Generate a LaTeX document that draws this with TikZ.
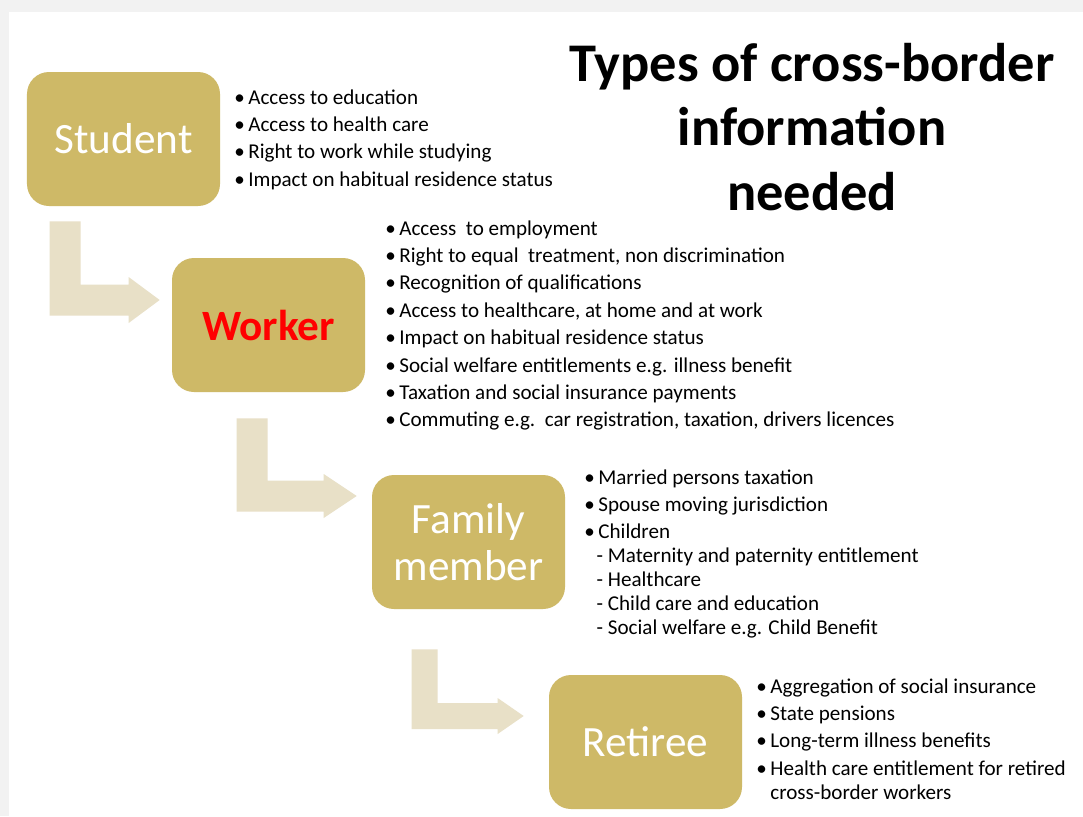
\documentclass[tikz,border=0pt]{standalone}
\usepackage{fontspec}
\setmainfont{Carlito}
\usepackage{tikz}
\usetikzlibrary{positioning, calc}
\definecolor{gold}{RGB}{206, 185, 103}
\definecolor{paleGold}{RGB}{232, 224, 199}
\definecolor{slideShadow}{RGB}{242, 242, 242}
\tikzset{
  stage/.style = {rectangle, rounded corners=0.44cm, minimum width=3.86cm, minimum height=2.68cm,
                  fill=gold, text=white, align=center, font=\fontsize{24.6}{26.6}\selectfont},
  bullets/.style = {anchor=north west, inner sep=0pt, align=left, font=\fontsize{12}{15.6}\selectfont},
  bentfill/.style = {fill=paleGold}
}
% L-shaped block arrow: start corner, tip, bar width, head width, head length
\newcommand{\bentarrow}[5]{%
  \fill[bentfill] (#1) -- ++(#3,0) |- ($(#2)+(-#5,-#3/2)$) -- ++(0,{-(#4-#3)/2})
    -- (#2) -- ++(-#5,{#4/2}) -- ++(0,{-(#4-#3)/2}) -| (#1) -- cycle;}
\newcommand{\dashitem}{\hspace{7pt}- }

\begin{document}
\begin{tikzpicture}[x=0.2mm, y=-0.2mm]
    \useasboundingbox (0,0) rectangle (1083,816);
    % slide on its shadow
    \fill[slideShadow] (0,0) rectangle (1083,816);
    \fill[white] (9,12) rectangle (1083,816);

    % Title
    \node[align=center, font=\bfseries\fontsize{31}{36.8}\selectfont] (title) at (812,127)
        {Types of cross-border\\information\\needed};

    % Stages
    \node[stage] (student) at (123.5,139) {Student};
    \node[stage, text=red, font=\bfseries\fontsize{24.6}{26.6}\selectfont] (worker) at (268.5,325) {Worker};
    \node[stage] (family) at (468.5,542) {Family\\member};
    \node[stage] (retiree) at (645.5,742) {Retiree};

    % Arrows between stages
    \coordinate (s1) at ($(student.south west)+(23,15)$);
    \coordinate (t1) at ($(worker.west)+(-12,-25)$);
    \coordinate (s2) at ($(worker.south west)+(65,26)$);
    \coordinate (t2) at ($(family.west)+(-15,-46)$);
    \coordinate (s3) at ($(family.south west)+(40,40)$);
    \coordinate (t3) at ($(retiree.west)+(-25,-26)$);
    \bentarrow{s1}{t1}{31}{46}{31}
    \bentarrow{s2}{t2}{31}{44}{33}
    \bentarrow{s3}{t3}{26}{36}{26}

    % Information lists
    \node[bullets] (studentInfo) at (234,89) {%
        \textbullet\,Access to education\\
        \textbullet\,Access to health care\\
        \textbullet\,Right to work while studying\\
        \textbullet\,Impact on habitual residence status};
    \node[bullets] (workerInfo) at (385,220) {%
        \textbullet\,Access\ \ to employment\\
        \textbullet\,Right to equal\ \ treatment, non discrimination\\
        \textbullet\,Recognition of qualifications\\
        \textbullet\,Access to healthcare, at home and at work\\
        \textbullet\,Impact on habitual residence status\\
        \textbullet\,Social welfare entitlements e.g. illness benefit\\
        \textbullet\,Taxation and social insurance payments\\
        \textbullet\,Commuting e.g.\ \ car registration, taxation, drivers licences};
    \node[bullets] (familyInfo) at (584,469) {%
        \textbullet\,Married persons taxation\\
        \textbullet\,Spouse moving jurisdiction\\
        \textbullet\,Children\\[-2pt]
        \dashitem Maternity and paternity entitlement\\[-2pt]
        \dashitem Healthcare\\[-2pt]
        \dashitem Child care and education\\[-2pt]
        \dashitem Social welfare e.g. Child Benefit};
    \node[bullets] (retireeInfo) at (756,678) {%
        \textbullet\,Aggregation of social insurance\\
        \textbullet\,State pensions\\
        \textbullet\,Long-term illness benefits\\
        \textbullet\,Health care entitlement for retired\\[-2pt]
        \phantom{\textbullet\,}cross-border workers};
\end{tikzpicture}
\end{document}
